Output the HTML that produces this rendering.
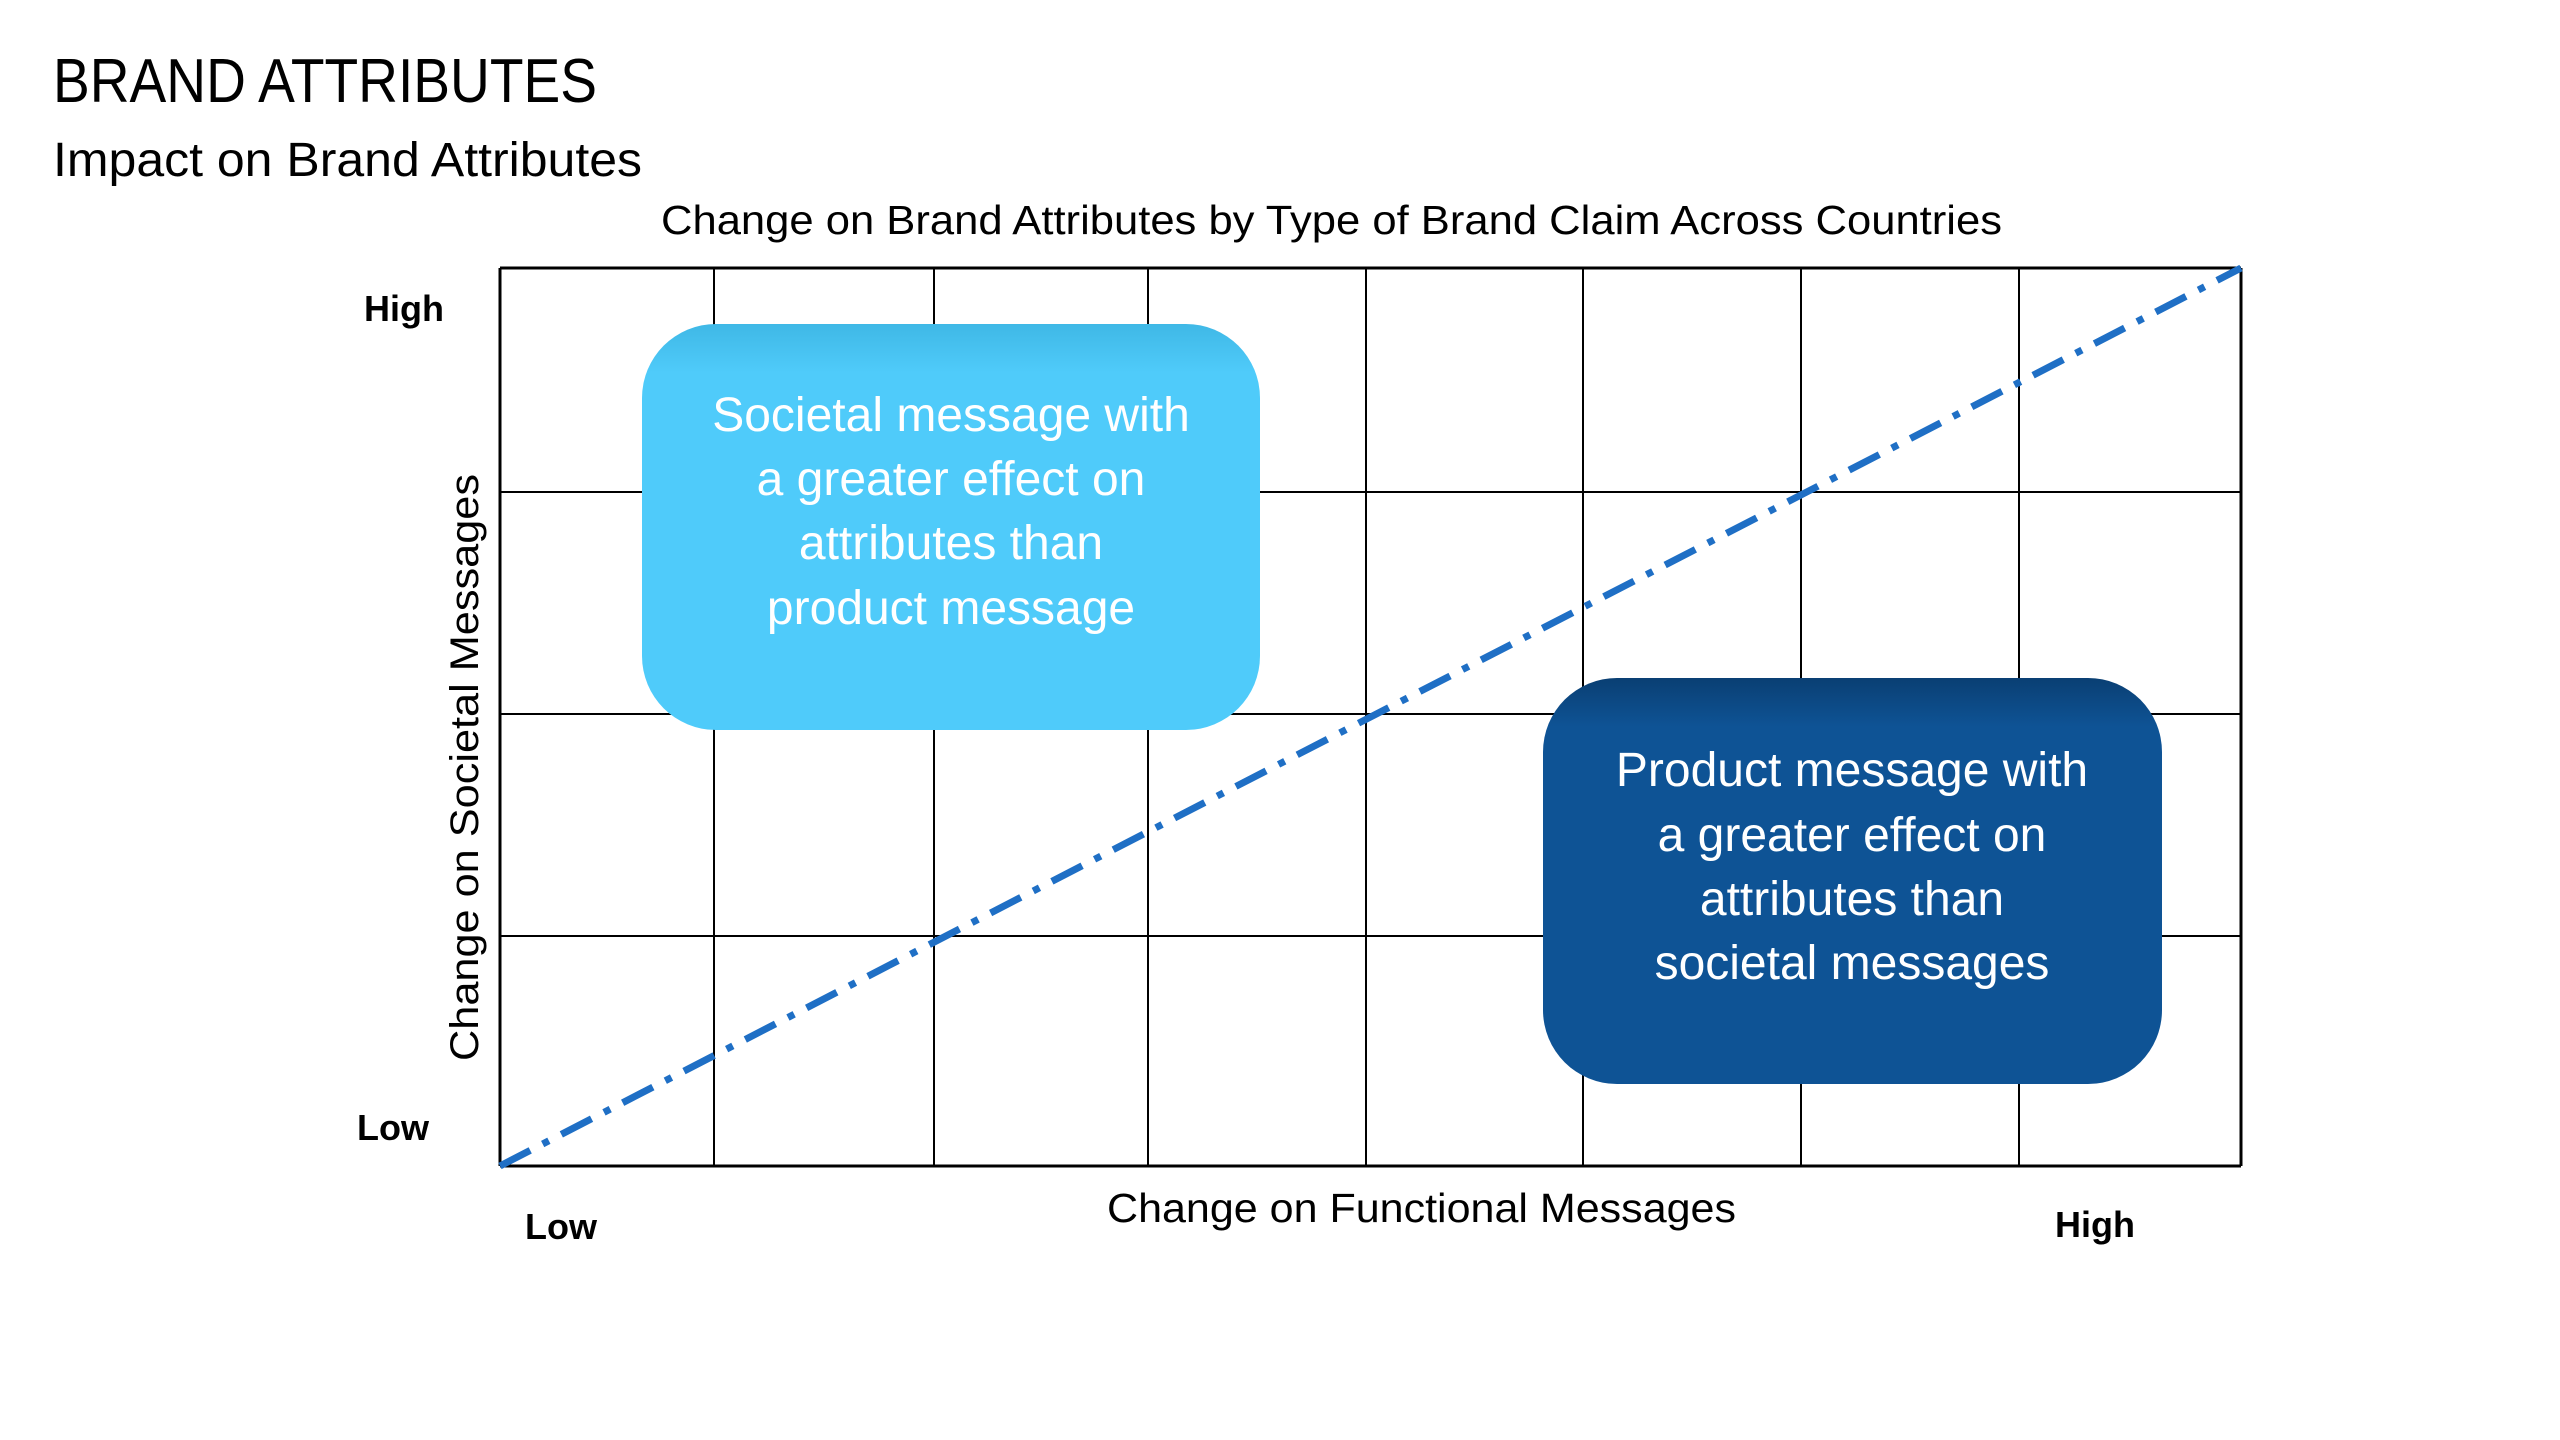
<!DOCTYPE html>
<html><head><meta charset="utf-8"><style>
html,body{margin:0;padding:0;background:#fff;width:2560px;height:1440px;overflow:hidden}
svg{display:block}
text{font-family:"Liberation Sans",sans-serif}
</style></head><body>
<svg id="chart" width="2560" height="1440" viewBox="0 0 2560 1440">
<defs>
<linearGradient id="lg1" x1="0" y1="0" x2="0" y2="1"><stop offset="0" stop-color="#3fb8e6"/><stop offset="0.12" stop-color="#4fcbfa"/><stop offset="1" stop-color="#4fcbfa"/></linearGradient>
<linearGradient id="lg2" x1="0" y1="0" x2="0" y2="1"><stop offset="0" stop-color="#0a3f73"/><stop offset="0.12" stop-color="#0e5395"/><stop offset="1" stop-color="#0e5395"/></linearGradient>
</defs>
<text x="53" y="102" font-size="62" textLength="544" lengthAdjust="spacingAndGlyphs" fill="#000">BRAND ATTRIBUTES</text>
<text x="53" y="176" font-size="48" textLength="589" lengthAdjust="spacingAndGlyphs" fill="#000">Impact on Brand Attributes</text>
<text x="661" y="234" font-size="41" textLength="1341" lengthAdjust="spacingAndGlyphs" fill="#000">Change on Brand Attributes by Type of Brand Claim Across Countries</text>
<g id="grid"></g>
<g id="boxes"></g>
<g id="series"></g>
<text x="364" y="321" font-size="36" font-weight="bold" textLength="80" lengthAdjust="spacingAndGlyphs">High</text>
<text x="357" y="1140" font-size="36" font-weight="bold" textLength="72" lengthAdjust="spacingAndGlyphs">Low</text>
<text x="525" y="1239" font-size="36" font-weight="bold" textLength="72" lengthAdjust="spacingAndGlyphs">Low</text>
<text x="2055" y="1237" font-size="36" font-weight="bold" textLength="80" lengthAdjust="spacingAndGlyphs">High</text>
<text x="1107" y="1222" font-size="41" textLength="629" lengthAdjust="spacingAndGlyphs">Change on Functional Messages</text>
<text transform="translate(478,1061) rotate(-90)" x="0" y="0" font-size="40" font-family="DejaVu Sans, sans-serif" textLength="587" lengthAdjust="spacingAndGlyphs">Change on Societal  Messages</text>
</svg>
<script>
const xTicks = [0,1,2,3,4,5,6,7,8];
const yTicks = [0,1,2,3,4];
const lineX = [0, 8];
const lineY = [0, 4];
const xPix = [500,714,934,1148,1366,1583,1801,2019,2241];
const yPix = [1166,936,714,492,268];
function sx(v){ // piecewise-linear axis
  const i=Math.min(Math.floor(v),7); const f=v-i; return xPix[i]+(xPix[i+1]-xPix[i])*f; }
function sy(v){ const i=Math.min(Math.floor(v),3); const f=v-i; return yPix[i]+(yPix[i+1]-yPix[i])*f; }
const NS='http://www.w3.org/2000/svg';
const grid=document.getElementById('grid');
xTicks.forEach(t=>{
  const l=document.createElementNS(NS,'line');
  
  
  l.setAttribute('x1',sx(t));l.setAttribute('x2',sx(t));
  l.setAttribute('y1',sy(0));l.setAttribute('y2',sy(4));
  l.setAttribute('stroke','#000');l.setAttribute('stroke-width',(t===0||t===8)?3:2);
  grid.appendChild(l);
});
yTicks.forEach(t=>{
  const l=document.createElementNS(NS,'line');
  
  
  l.setAttribute('y1',sy(t));l.setAttribute('y2',sy(t));
  l.setAttribute('x1',sx(0));l.setAttribute('x2',sx(8));
  l.setAttribute('stroke','#000');l.setAttribute('stroke-width',(t===0||t===4)?3:2);
  grid.appendChild(l);
});
const series=document.getElementById('series');
const pl=document.createElementNS(NS,'polyline');


pl.setAttribute('points',lineX.map((x,i)=>sx(x)+','+sy(lineY[i])).join(' '));
pl.setAttribute('fill','none');pl.setAttribute('stroke','#1f6fc5');pl.setAttribute('stroke-width','7');
pl.setAttribute('stroke-dasharray','34 14 7 14');
series.appendChild(pl);

const boxes=document.getElementById('boxes');
function box(name,x,y,w,h,fill,lines,cx,baselines){
  const g=document.createElementNS(NS,'g');
  
  
  const r=document.createElementNS(NS,'rect');
  
  
  r.setAttribute('x',x);r.setAttribute('y',y);r.setAttribute('width',w);r.setAttribute('height',h);
  r.setAttribute('rx',74);r.setAttribute('fill',fill);
  g.appendChild(r);
  lines.forEach((s,i)=>{
    const t=document.createElementNS(NS,'text');
    
    
    t.setAttribute('x',cx);t.setAttribute('y',baselines[i]);
    t.setAttribute('text-anchor','middle');t.setAttribute('font-size','48');t.setAttribute('fill','#fff');
    t.textContent=s; g.appendChild(t);
  });
  boxes.appendChild(g);
}
box('societal-callout',642,324,618,406,'url(#lg1)',['Societal message with','a greater effect on','attributes than','product message'],951,[431,495,559,624]);
box('product-callout',1543,678,619,406,'url(#lg2)',['Product message with','a greater effect on','attributes than','societal messages'],1852,[786,851,915,979]);
</script>
</body></html>
